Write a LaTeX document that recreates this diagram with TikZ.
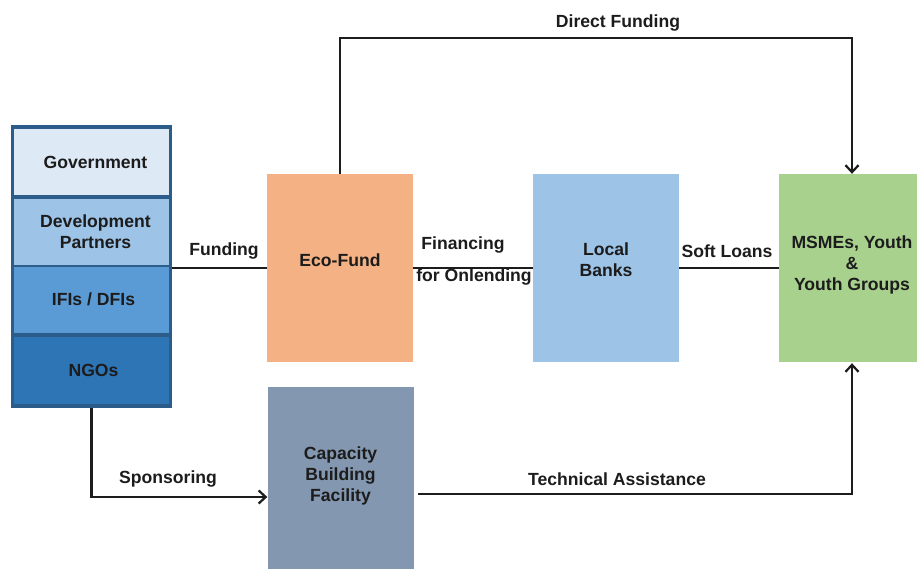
\documentclass[tikz,border=0pt]{standalone}
\usepackage{fontspec}
\setmainfont{Liberation Sans}
\usetikzlibrary{arrows.meta}

\definecolor{stackborder}{HTML}{2B5C8A}
\definecolor{govfill}{HTML}{DDEAF6}
\definecolor{devfill}{HTML}{9DC3E6}
\definecolor{ififill}{HTML}{5B9BD5}
\definecolor{ngofill}{HTML}{2E75B6}
\definecolor{ecofill}{HTML}{F4B183}
\definecolor{bankfill}{HTML}{9DC3E6}
\definecolor{msmefill}{HTML}{A9D18E}
\definecolor{capfill}{HTML}{8497B0}
\definecolor{ink}{HTML}{1C1C1C}

\tikzset{
  txt/.style={font=\fontsize{17.6}{21}\selectfont\bfseries, text=ink, align=center},
  cell/.style={txt, inner sep=0pt, minimum width=155pt},
  block/.style={txt, inner sep=0pt, minimum width=146pt, minimum height=188pt},
  flow/.style={draw=ink, line width=2.2pt},
  arrowflow/.style={flow, -{Straight Barb[length=7pt,width=13pt,line width=2.2pt]}},
  lbl/.style={txt, inner sep=0pt}
}

\begin{document}
\begin{tikzpicture}[x=1pt, y=-1pt]
  \useasboundingbox (0,0) rectangle (917,569);

  % funding sources stack
  \node (stack) [fill=stackborder, inner sep=0pt, minimum width=161pt, minimum height=283pt] at (91.5,266.5) {};
  \node (gov) [cell, fill=govfill, minimum height=66pt] at (91.5,162) {\hspace*{8pt}Government};
  \node (dev) [cell, fill=devfill, minimum height=65.5pt] at (91.5,231.75) {\hspace*{8pt}Development\\\hspace*{8pt}Partners};
  \node (ifi) [cell, fill=ififill, minimum height=66pt] at (91.5,299.5) {\hspace*{4pt}IFIs / DFIs};
  \node (ngo) [cell, fill=ngofill, minimum height=67pt] at (91.5,370.5) {\hspace*{4pt}NGOs};

  % main blocks
  \node (eco)  [block, fill=ecofill, text depth=16pt]  at (340,268) {Eco-Fund};
  \node (bank) [block, fill=bankfill, text depth=16pt] at (606,268) {Local\\Banks};
  \node (msme) [block, fill=msmefill, text depth=9pt] at (852,268) {MSMEs, Youth\\\&\\Youth Groups};
  \node (cap)  [block, fill=capfill, minimum height=182pt, text depth=7pt] at (340.5,478) {Capacity\\Building\\Facility};

  % connectors
  \draw[flow] (stack.east |- eco.west) -- (eco.west);
  \draw[flow] (eco.east) -- (bank.west);
  \draw[flow] (bank.east) -- (msme.west);
  \coordinate (dtop) at (340,38);
  \draw[arrowflow] (eco.north) -- (dtop) -| (msme.north);
  \coordinate (sp) at (91.5,497);
  \draw[arrowflow] (stack.south) -- (sp) -- (cap.west |- sp);
  \coordinate (ta) at (418,494);
  \draw[arrowflow, shorten >=1pt] (ta) -| (msme.south);

  % connector labels
  \node[lbl] (lfund) at (224,251) {Funding};
  \node[lbl] (ldirect) at (618,23) {Direct Funding};
  \node[lbl] (lfin1) at (463,245) {Financing};
  \node[lbl] (lfin2) at (474,277) {for Onlending};
  \node[lbl] (lsoft) at (727,251) {Soft Loans};
  \node[lbl] (lspon) at (168,479) {Sponsoring};
  \node[lbl] (ltech) at (617,479) {Technical Assistance};
\end{tikzpicture}
\end{document}
